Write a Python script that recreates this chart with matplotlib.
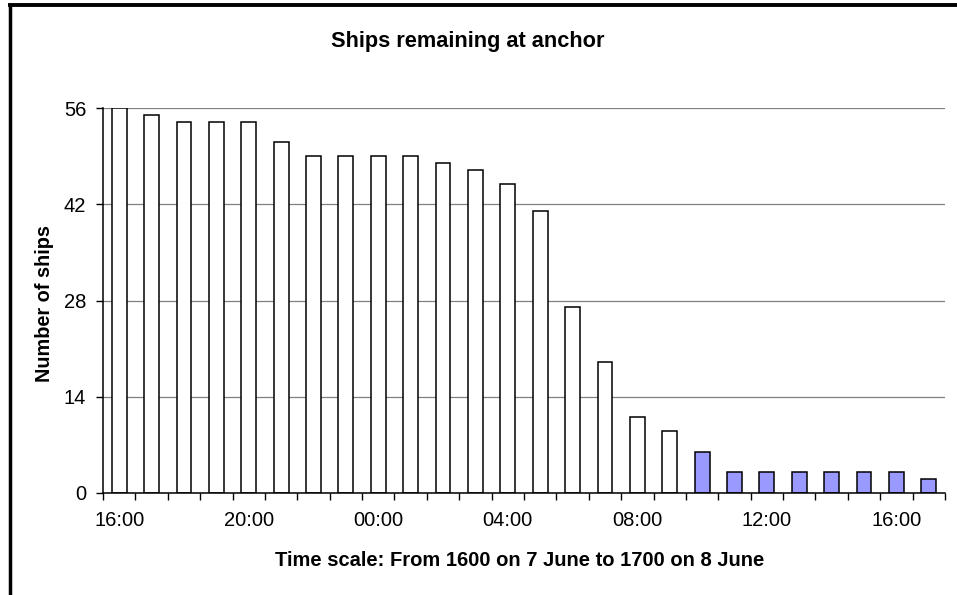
#!/usr/bin/env python3
"""Ships remaining at anchor, hourly from 1600 on 7 June to 1700 on 8 June."""
import matplotlib
matplotlib.use("Agg")
import matplotlib.pyplot as plt
from matplotlib.lines import Line2D
from matplotlib.ticker import FixedLocator

HOURS = ["16:00", "17:00", "18:00", "19:00", "20:00", "21:00", "22:00", "23:00",
         "00:00", "01:00", "02:00", "03:00", "04:00", "05:00", "06:00", "07:00",
         "08:00", "09:00", "10:00", "11:00", "12:00", "13:00", "14:00", "15:00",
         "16:00", "17:00"]
SHIPS = [56, 55, 54, 54, 54, 51, 49, 49, 49, 49, 48, 47, 45, 41, 27, 19,
         11, 9, 6, 3, 3, 3, 3, 3, 3, 2]
# bars from 10:00 on 8 June are shaded
SHADED_FROM = "10:00"
Y_TICKS = [0, 14, 28, 42, 56]

plt.rcParams["font.family"] = ["Liberation Sans", "DejaVu Sans"]

fig = plt.figure(figsize=(9.57, 5.95), dpi=100)
ax = fig.add_axes([103 / 957, 1 - 493 / 595, 842 / 957, 385 / 595])

start = HOURS.index(SHADED_FROM)
colors = ["white" if i < start else "#9999FF" for i in range(len(SHIPS))]
x = list(range(len(SHIPS)))
ax.bar(x, SHIPS, width=0.46, color=colors, edgecolor="black", linewidth=1.1, zorder=3)

ax.set_xlim(-0.5, len(SHIPS) - 0.5)
ax.set_ylim(0, 56)
ax.set_yticks(Y_TICKS)
ax.yaxis.grid(True, color="#808080", linewidth=0.9, zorder=0)

ax.set_xticks(x[::4])
ax.set_xticklabels(HOURS[::4])
ax.tick_params(axis="x", which="major", length=0, pad=13, labelsize=14.5)
ax.xaxis.set_minor_locator(FixedLocator([i - 0.5 for i in range(len(SHIPS) + 1)]))
ax.tick_params(axis="x", which="minor", length=5, width=1, direction="out")
ax.tick_params(axis="y", length=5, width=1, pad=7, labelsize=14.5)

for side in ("top", "right"):
    ax.spines[side].set_visible(False)
for side in ("left", "bottom"):
    ax.spines[side].set_linewidth(1.1)
    ax.spines[side].set_zorder(4)

fig.text(468 / 957, 1 - 41 / 595, "Ships remaining at anchor",
         ha="center", va="center", fontsize=15.7, fontweight="bold")
fig.text(520 / 957, 1 - 560 / 595, "Time scale: From 1600 on 7 June to 1700 on 8 June",
         ha="center", va="center", fontsize=14.5, fontweight="bold")
fig.text(44.5 / 957, 1 - 303 / 595, "Number of ships", rotation=90,
         ha="center", va="center", fontsize=14.3, fontweight="bold")

# chart-area border (only left and top edges fall inside the picture)
fig.add_artist(Line2D([10 / 957, 10 / 957], [0, 1 - 5 / 595], color="black", linewidth=2.5))
fig.add_artist(Line2D([10 / 957, 1], [1 - 5 / 595, 1 - 5 / 595], color="black", linewidth=2.8))

fig.savefig("out.png", dpi=100)
plt.close(fig)
